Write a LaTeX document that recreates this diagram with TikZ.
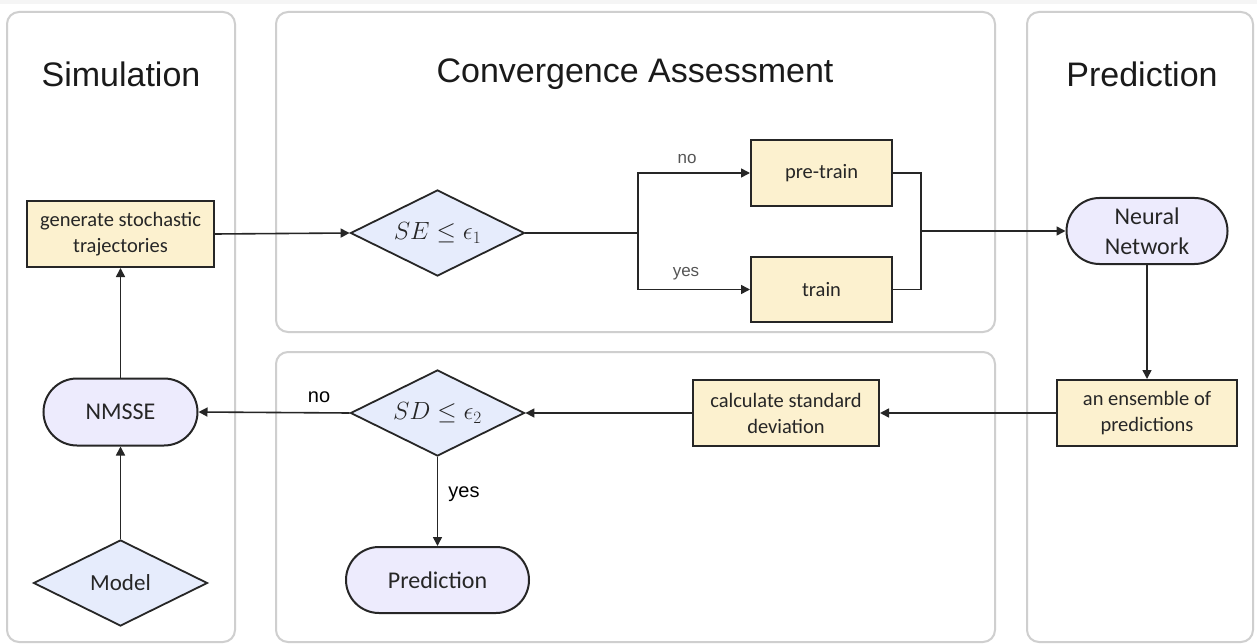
\documentclass[tikz,border=0pt]{standalone}
\usepackage{fontspec}
\setmainfont{Liberation Sans}
\newfontfamily\boxfont{Carlito}
\usetikzlibrary{shapes.geometric,shapes.misc,arrows.meta}

\definecolor{panelline}{HTML}{CFCFCF}
\definecolor{boxfill}{HTML}{FCF1CF}
\definecolor{decfill}{HTML}{E6ECFC}
\definecolor{pillfill}{HTML}{EDEBFD}
\definecolor{ink}{HTML}{262626}
\definecolor{titleink}{HTML}{1A1A1A}
\definecolor{softink}{HTML}{555555}

\tikzset{
  panel/.style={draw=panelline, line width=2pt, rounded corners=12pt, fill=white},
  paneltitle/.style={font=\fontsize{34}{40}\selectfont, text=titleink},
  procbox/.style={draw=ink, line width=2pt, fill=boxfill, inner sep=0pt,
    align=center, text=ink, font=\boxfont\fontsize{20.5}{26}\selectfont},
  decision/.style={diamond, draw=ink, line width=1.8pt, fill=decfill, inner sep=0pt,
    aspect=2.02, text=ink, font=\fontsize{24}{28}\selectfont},
  pill/.style={rounded rectangle, draw=ink, line width=2pt, fill=pillfill, inner sep=0pt,
    align=center, text=ink, font=\boxfont\fontsize{24}{30}\selectfont},
  flow/.style={draw=ink, line width=1.6pt},
  arrow/.style={flow, -{Triangle[length=9pt,width=9pt]}},
  branchlabel/.style={text=softink, font=\fontsize{17}{20}\selectfont},
  looplabel/.style={text=black, font=\fontsize{20}{24}\selectfont},
}

\begin{document}
\begin{tikzpicture}[x=1pt, y=-1pt]
  \useasboundingbox (0,0) rectangle (1257,644);
  \clip (0,0) rectangle (1257,644);
  \fill[white] (0,0) rectangle (1257,644);
  \fill[black!4] (0,0) rectangle (1257,4);

  % swim-lane panels
  \draw[panel] (7,12) rectangle (235,642);
  \draw[panel] (276,12) rectangle (995,332);
  \draw[panel] (276,352) rectangle (995,642);
  \draw[panel] (1027,12) rectangle (1253,642);

  \node[paneltitle] (tsim) at (121,74) {Simulation};
  \node[paneltitle] (tconv) at (635,74) {Convergence Assessment};
  \node[paneltitle] (tpred) at (1142,74) {Prediction};

  % simulation lane
  \node[procbox, minimum width=187pt, minimum height=66pt] (gen) at (120.5,234)
    {generate stochastic\\trajectories};
  \node[pill, minimum width=154pt, minimum height=67pt] (nmsse) at (120.5,412) {NMSSE};
  \node[decision, minimum width=174pt, minimum height=86pt, font=\boxfont\fontsize{23}{28}\selectfont] (model) at (120.5,583) {Model};

  % convergence assessment
  \node[decision, minimum width=174pt, minimum height=86pt] (se) at (437.5,233) {$SE \le \epsilon_1$};
  \node[procbox, minimum width=141pt, minimum height=66pt] (pre) at (821.5,173) {pre-train};
  \node[procbox, minimum width=141pt, minimum height=65pt] (train) at (821.5,289.5) {train};
  \coordinate (split) at (638,233);
  \coordinate (merge) at (921,231);

  % prediction lane
  \node[pill, minimum width=161pt, minimum height=66pt] (nn) at (1147,231) {Neural\\Network};
  \node[procbox, minimum width=180pt, minimum height=66pt] (ens) at (1147,413) {an ensemble of\\predictions};

  % standard deviation check
  \node[procbox, minimum width=186pt, minimum height=66pt] (calc) at (786,413) {calculate standard\\deviation};
  \node[decision, minimum width=174pt, minimum height=86pt] (sd) at (437.5,413) {$SD \le \epsilon_2$};
  \node[pill, minimum width=183pt, minimum height=66pt] (pred) at (437.5,580) {Prediction};

  % connectors
  \draw[arrow] (model.north) -- (nmsse.south);
  \draw[arrow] (nmsse.north) -- (gen.south);
  \draw[arrow] (gen.east) -- (se.west);
  \draw[flow] (se.east) -- (split);
  \draw[arrow] (split) |- (pre.west);
  \draw[arrow] (split) |- (train.west);
  \draw[flow] (pre.east) -| (merge) |- (train.east);
  \draw[arrow] (merge) -- (nn.west);
  \draw[arrow] (nn.south) -- (ens.north);
  \draw[arrow] (ens.west) -- (calc.east);
  \draw[arrow] (calc.west) -- (sd.east);
  \draw[arrow] (sd.west) -- (nmsse.east);
  \draw[arrow] (sd.south) -- (pred.north);

  % branch labels
  \node[branchlabel] (lno1) at (687,159) {no};
  \node[branchlabel] (lyes1) at (686,274) {yes};
  \node[looplabel] (lno2) at (319,397) {no};
  \node[looplabel] (lyes2) at (464,494) {yes};
\end{tikzpicture}
\end{document}
